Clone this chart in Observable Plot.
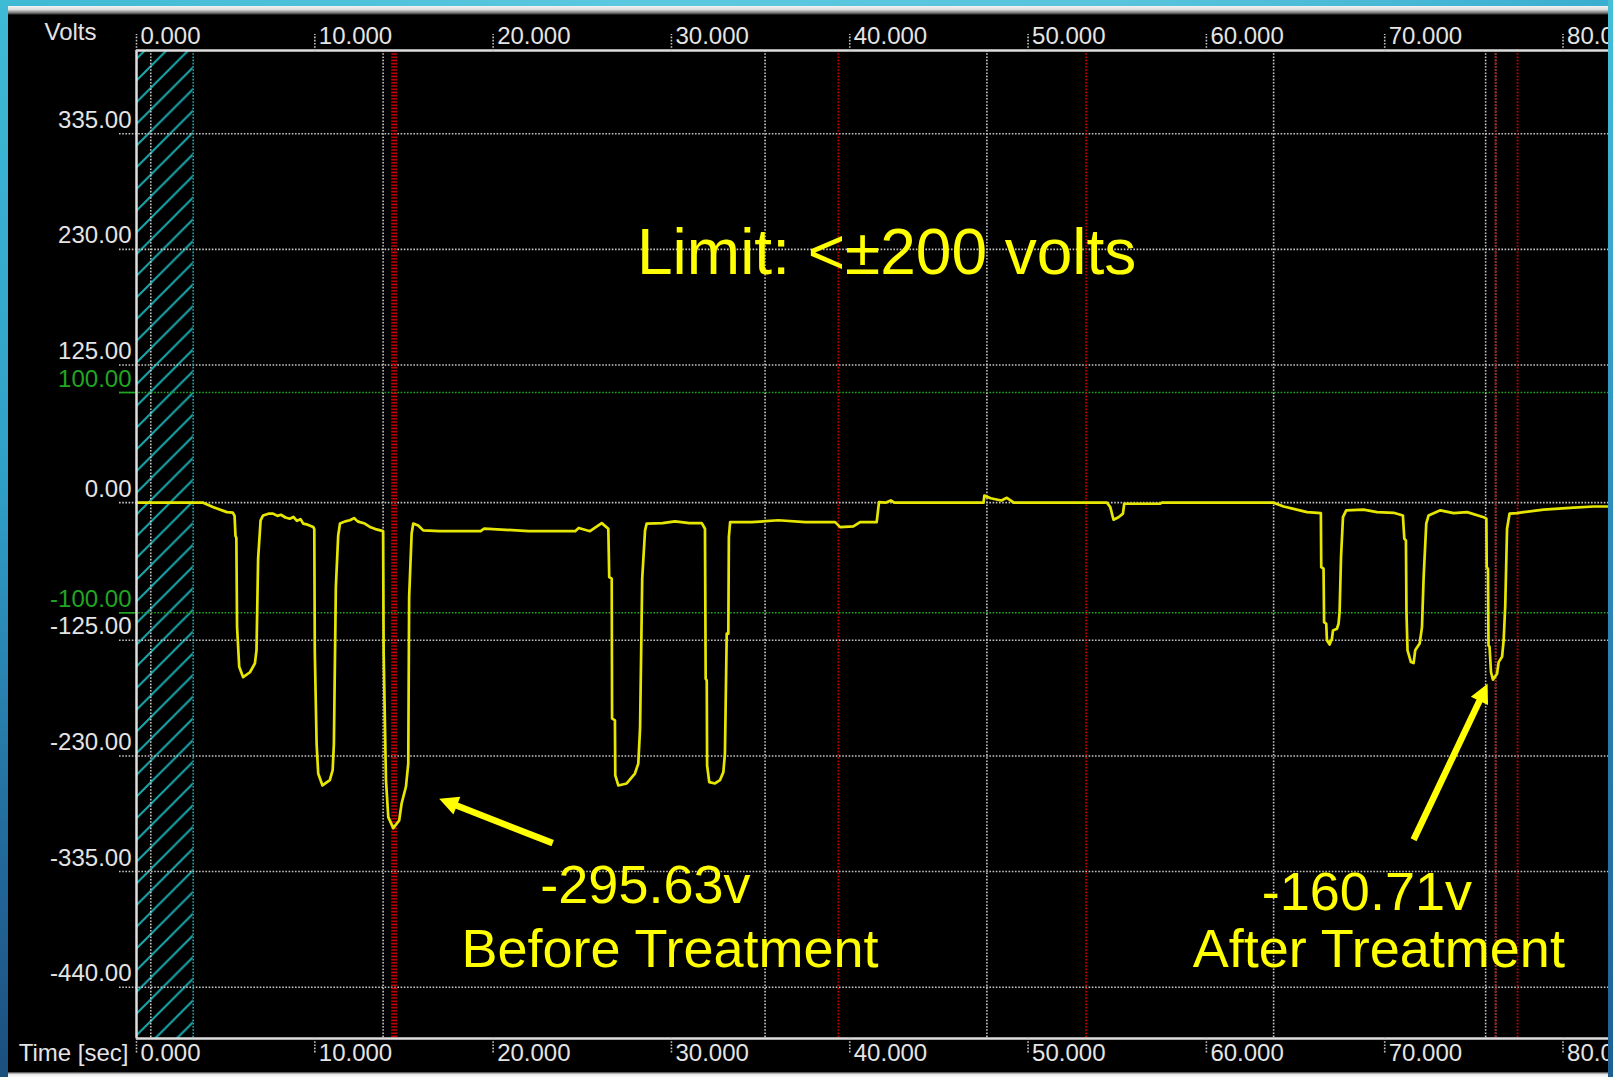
<!DOCTYPE html>
<html><head><meta charset="utf-8">
<script src="https://cdn.jsdelivr.net/npm/d3@7"></script>
<script src="https://cdn.jsdelivr.net/npm/@observablehq/plot@0.6"></script>
<style>
html,body{margin:0;padding:0;background:#000;overflow:hidden}
#wrap{position:relative;width:1613px;height:1077px;background:#000}
#chart{position:absolute;left:0;top:0}
.strip{position:absolute;z-index:2}
</style></head><body>
<div id="wrap">
 <div id="chart"></div>
 <div class="strip" style="left:0;top:0;width:1613px;height:6px;background:linear-gradient(90deg,#3fb9d4,#5cc9df 40%,#58c4dc 70%,#3aaed0)"></div>
 <div class="strip" style="left:8px;top:6px;width:1600px;height:9px;background:linear-gradient(#f4f4f4,#dcdcdc 40%,#6a6a6a 80%,#000)"></div>
 <div class="strip" style="left:0;top:0;width:8px;height:1077px;background:linear-gradient(#3fbbd6,#2f9fc6 45%,#22689a 80%,#1b4f7e)"></div>
 <div class="strip" style="left:1608px;top:0;width:5px;height:1077px;background:linear-gradient(#45bfd8,#2f8fbf 45%,#1f5f92)"></div>
 <div class="strip" style="left:8px;top:1072px;width:1600px;height:5px;background:linear-gradient(#3a3a3a,#e8e8e8 45%,#fafafa)"></div>
</div>
<script>
// ---- data ----
const time = [0,3.74,4.28,5.07,5.40,5.50,5.55,5.60,5.64,5.76,5.98,6.10,6.36,6.64,6.73,6.82,6.96,7.10,7.40,7.66,7.90,8.10,8.35,8.60,8.80,9.00,9.20,9.35,9.60,9.91,9.97,10.00,10.10,10.19,10.43,10.84,11.00,11.07,11.18,11.31,11.41,11.70,11.97,12.20,12.40,12.53,12.80,13.09,13.40,13.83,13.86,13.99,14.12,14.40,14.73,14.87,15.11,15.24,15.29,15.43,15.52,15.80,16.08,17.0,19.3,19.5,22.0,24.6,24.8,25.43,26.09,26.46,26.51,26.65,26.67,26.83,26.85,27.02,27.49,27.95,28.14,28.24,28.36,28.52,28.61,29.5,30.2,31.0,31.70,31.88,31.92,31.98,32.00,32.12,32.44,32.72,32.91,33.00,33.10,33.19,33.22,33.29,34.5,36.0,37.5,39.18,39.46,40.20,40.58,41.51,41.64,42.0,42.3,42.5,47.50,47.55,47.9,48.5,48.81,49.2,54.42,54.61,54.79,55.07,55.32,55.39,57.41,57.5,63.77,64.33,64.89,65.64,66.42,66.44,66.57,66.60,66.72,66.76,66.91,67.04,67.10,67.32,67.41,67.47,67.55,67.66,67.84,68.81,69.57,70.50,71.02,71.10,71.19,71.22,71.28,71.47,71.62,71.71,71.96,72.09,72.18,72.33,72.46,73.12,73.86,74.62,75.55,75.70,75.72,75.79,75.82,75.88,75.96,76.07,76.30,76.39,76.58,76.67,76.76,76.86,77.00,77.42,77.79,78.91,80.60,81.72,82.55];
const volts = [0,0,-4,-8.6,-9,-12,-30,-32,-113,-149,-158.5,-157,-154,-146,-134,-51,-16,-11.6,-10,-10,-12,-11,-13.5,-14.6,-13,-16.5,-15,-19,-20,-22,-24,-136,-219,-246,-256.8,-252,-243,-219,-76.7,-30,-19,-17,-16,-14,-17,-17.7,-19,-22,-24,-25.9,-136,-252,-285.6,-295.6,-288.6,-273,-258,-237,-85.8,-28,-19,-20.7,-25.2,-25.9,-25.9,-23.5,-25.9,-25.9,-23,-25.9,-18.6,-23.7,-67.6,-69,-196,-197.8,-247.7,-256.8,-255,-246,-237,-205,-69,-25.2,-19,-18.6,-17,-18.6,-18.6,-23.7,-160,-161.5,-238.7,-253.8,-255,-252,-244.7,-228,-119,-119,-31.3,-17.7,-17.7,-16,-17.7,-17.7,-22.2,-21.6,-17.7,-17.7,0.5,0,2,0,0,6.5,4,2,4.4,0,0,-4,-15.5,-13.2,-10,-1,-1,0,0,-3.5,-5.6,-8.6,-9.5,-58.6,-60,-108.5,-110,-125,-128.8,-123.6,-116,-114.5,-110,-99.4,-49.5,-13.2,-7,-6.4,-8.6,-9.2,-11.6,-32.8,-34.3,-99.4,-134.2,-144.8,-145.7,-134,-128,-113,-69,-19,-11.6,-7,-9.5,-8.6,-13.2,-14.6,-58.6,-60,-129.7,-131,-154,-160.7,-155.4,-144.8,-140,-125,-93.4,-23.7,-10,-9.5,-8.6,-6.4,-4.6,-3.5,-3.5];

const xDomain = [0, 82.55];
const yDomain = [-486.6, 410.6];
const xTicks = [0, 10, 20, 30, 40, 50, 60, 70, 80];
const yGrid = [335, 230, 125, 0, -125, -230, -335, -440];
const limitLines = [100, -100];
const hatchRange = [0, 3.18];
const cursorWhite = [0.80, 13.83, 35.25, 47.69, 63.77, 75.66, 76.22];
const cursorTeal = [3.18];
const cursorRed = [39.36, 53.26, 76.22, 77.45];
const cursorRedWide = [14.45];

const titleText = ["Limit: <±200 volts"];
const titleT = [42.07];
const titleV = [226];
const noteText = ["-295.63v", "Before Treatment", "-160.71v", "After Treatment"];
const noteT = [28.54, 29.92, 69.0, 69.67];
const noteV = [-348.3, -406.4, -354.6, -406.4];

const arrowT1 = [23.34, 71.62];
const arrowV1 = [-309.2, -306.1];
const arrowT2 = [17.34, 75.60];
const arrowV2 = [-271.2, -170.2];

// ---- styles ----
const GRID = "#c4c4c4", AXIS = "#dedede", LABEL = "#e4e4e4", GREEN = "#22a522", RED = "#c40000", TEAL = "#19a9ad", TRACE = "#e6e600", NOTE = "#ffff00";
const ns = "http://www.w3.org/2000/svg";

function hatchDefs() {
  const defs = document.createElementNS(ns, "defs");
  const p = document.createElementNS(ns, "pattern");
  const s = 21.7;
  p.setAttribute("id", "hatch");
  p.setAttribute("patternUnits", "userSpaceOnUse");
  p.setAttribute("width", s); p.setAttribute("height", s);
  const path = document.createElementNS(ns, "path");
  path.setAttribute("d", `M0,${s}L${s},0M-3,3L3,-3M${s-3},${s+3}L${s+3},${s-3}`);
  path.setAttribute("stroke", TEAL); path.setAttribute("stroke-width", "2");
  p.appendChild(path); defs.appendChild(p);
  return defs;
}
function triHead(color, context) {
  const doc = (context && context.document) || document;
  const m = doc.createElementNS(ns, "marker");
  m.setAttribute("markerUnits", "userSpaceOnUse");
  m.setAttribute("orient", "auto");
  m.setAttribute("overflow", "visible");
  m.setAttribute("markerWidth", "1"); m.setAttribute("markerHeight", "1");
  m.setAttribute("refX", "0"); m.setAttribute("refY", "0");
  const path = doc.createElementNS(ns, "path");
  path.setAttribute("d", "M-12,-9.5L7,0L-12,9.5Z");
  path.setAttribute("fill", NOTE); path.setAttribute("stroke", "none");
  m.appendChild(path);
  return m;
}
const dots = "1.6,1.6";

const chart = Plot.plot({
  width: 1613, height: 1077,
  marginLeft: 136, marginRight: 5, marginTop: 50, marginBottom: 39,
  style: {background: "black", fontFamily: "'Liberation Sans', Arial, sans-serif"},
  x: {domain: xDomain, axis: null},
  y: {domain: yDomain, axis: null},
  marks: [
    hatchDefs,
    Plot.rect([hatchRange], {x1: d => d[0], x2: d => d[1], fill: "url(#hatch)"}),
    Plot.ruleY(yGrid, {y: d => d, insetLeft: -17, stroke: GRID, strokeWidth: 1.6, strokeDasharray: dots}),
    Plot.ruleY(limitLines, {y: d => d, insetLeft: -17, stroke: GREEN, strokeWidth: 1.6, strokeDasharray: dots}),
    Plot.axisY(limitLines, {anchor: "left", tickSize: 17, stroke: GREEN, strokeWidth: 1.6, tickFormat: () => "", label: null}),
    Plot.ruleX(cursorWhite, {x: d => d, stroke: GRID, strokeWidth: 1.6, strokeDasharray: dots}),
    Plot.ruleX(cursorTeal, {x: d => d, stroke: TEAL, strokeWidth: 1.6, strokeDasharray: dots}),
    Plot.ruleX(cursorRedWide, {x: d => d, stroke: RED, strokeWidth: 6, strokeDasharray: dots}),
    Plot.ruleX(cursorRed, {x: d => d, stroke: RED, strokeWidth: 1.8, strokeDasharray: dots}),
    Plot.line(time, {x: time, y: volts, stroke: TRACE, strokeWidth: 2.7, strokeLinejoin: "round"}),
    // frame lines
    Plot.ruleY([yDomain[1]], {y: d => d, stroke: AXIS, strokeWidth: 2.5}),
    Plot.ruleY([yDomain[0]], {y: d => d, stroke: AXIS, strokeWidth: 2.5}),
    Plot.ruleX([xDomain[0]], {x: d => d, stroke: AXIS, strokeWidth: 2.5}),
    // x ticks (top and bottom)
    Plot.axisX(xTicks, {anchor: "top", tickSize: 17, stroke: GRID, strokeWidth: 1.6, strokeDasharray: dots, tickFormat: () => "", label: null}),
    Plot.axisX(xTicks, {anchor: "bottom", tickSize: 15, stroke: GRID, strokeWidth: 1.6, strokeDasharray: dots, tickFormat: () => "", label: null}),
    Plot.text(xTicks, {x: d => d, frameAnchor: "top", textAnchor: "start", lineAnchor: "bottom", dx: 4, dy: -7, text: d => d.toFixed(3), fill: LABEL, fontSize: 24}),
    Plot.text(xTicks, {x: d => d, frameAnchor: "bottom", textAnchor: "start", lineAnchor: "top", dx: 4, dy: 5, text: d => d.toFixed(3), fill: LABEL, fontSize: 24}),
    // y labels
    Plot.text(yGrid, {y: d => d, frameAnchor: "left", textAnchor: "end", lineAnchor: "bottom", dx: -5, dy: -6, text: d => d.toFixed(2), fill: LABEL, fontSize: 24}),
    Plot.text(limitLines, {y: d => d, frameAnchor: "left", textAnchor: "end", lineAnchor: "bottom", dx: -5, dy: -6, text: d => d.toFixed(2), fill: GREEN, fontSize: 24}),
    Plot.text(["Volts"], {frameAnchor: "top-left", textAnchor: "middle", lineAnchor: "bottom", dx: -66, dy: -11, text: d => d, fill: LABEL, fontSize: 24}),
    Plot.text(["Time [sec]"], {frameAnchor: "bottom-left", textAnchor: "end", lineAnchor: "top", dx: -8, dy: 5, text: d => d, fill: LABEL, fontSize: 24}),
    // annotations
    Plot.text(titleText, {x: titleT, y: titleV, text: titleText, fill: NOTE, fontSize: 64, textAnchor: "middle", lineAnchor: "middle"}),
    Plot.text(noteText, {x: noteT, y: noteV, text: noteText, fill: NOTE, fontSize: 54, textAnchor: "middle", lineAnchor: "middle"}),
    Plot.link(arrowT1, {x1: arrowT1, y1: arrowV1, x2: arrowT2, y2: arrowV2, stroke: NOTE, strokeWidth: 6.5, strokeLinecap: "butt", markerEnd: triHead})
  ]
});
document.getElementById("chart").appendChild(chart);
</script>
</body></html>
